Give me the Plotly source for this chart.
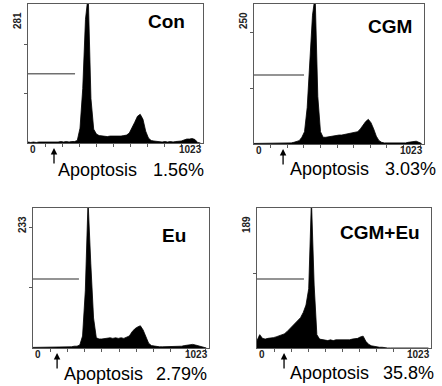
import plotly.graph_objects as go

# DNA content channels (bin grid, 16 channels per bin)
channels = list(range(0, 1024, 16))

con = [2, 1, 2, 1, 2, 2, 1, 2, 2, 1, 2, 2, 3, 2, 3, 2, 3, 3, 5, 30,
       110, 250, 300, 90, 28, 18, 15, 14, 14, 13, 14, 14, 13, 14, 14, 15, 16, 20, 30, 42,
       54, 58, 48, 24, 10, 5, 4, 3, 3, 2, 3, 2, 3, 2, 3, 3, 4, 6, 8, 8,
       9, 7, 1, 0]
cgm = [1, 1, 1, 2, 1, 1, 2, 1, 2, 1, 1, 2, 1, 2, 2, 3, 4, 6, 12, 22,
       65, 140, 230, 265, 85, 22, 12, 12, 13, 14, 14, 15, 16, 16, 17, 18, 18, 19, 20, 22,
       27, 34, 40, 44, 38, 27, 14, 6, 3, 2, 2, 1, 2, 1, 2, 1, 2, 2, 3, 4,
       5, 5, 3, 1]
eu = [1, 1, 2, 2, 1, 2, 2, 2, 1, 2, 2, 2, 2, 2, 2, 3, 3, 5, 20, 95,
      245, 140, 50, 17, 15, 15, 16, 16, 17, 16, 17, 16, 17, 16, 18, 20, 27, 32, 35, 37,
      30, 18, 8, 4, 3, 2, 2, 2, 2, 2, 2, 2, 3, 3, 3, 4, 5, 6, 6, 5,
      4, 3, 1, 0]
cgm_eu = [10, 18, 13, 12, 13, 13, 14, 15, 16, 17, 19, 22, 26, 30, 34, 38, 41, 48, 58, 80,
          200, 85, 18, 12, 11, 11, 10, 11, 10, 11, 11, 10, 11, 10, 11, 12, 12, 13, 15, 16,
          9, 5, 3, 2, 1, 1, 1, 0, 0, 0, 0, 0, 0, 0, 0, 0, 0, 0, 0, 0,
          0, 0, 0, 0]

names = ["Con", "CGM", "Eu", "CGM+Eu"]
series = [con, cgm, eu, cgm_eu]
ymax = [281, 250, 233, 189]
apoptosis = ["1.56%", "3.03%", "2.79%", "35.8%"]
marker_level = [140, 123, 115, 93]
marker_end = [275, 301, 267, 276]
arrow_ch = [152, 175, 140, 159]

W, H = 442, 386
# panel frames in pixels: left, right, top, bottom
frames = [(28, 203, 4, 143), (254, 424, 4, 144), (33, 209, 208, 348), (257, 431, 208, 348)]
name_pos = [(187, 22), (414, 26), (188, 235), (422, 232)]
apo_pos = [(56, 206, 170), (288, 438, 169), (62, 209, 374), (288, 436, 373)]


def px(x):
    return x / W


def py(y):
    return 1 - y / H


fig = go.Figure()
annotations = []
shapes = []
font = "Liberation Sans, Arial, sans-serif"

for i in range(4):
    l, r, t, b = frames[i]
    xa = "xaxis" if i == 0 else f"xaxis{i+1}"
    ya = "yaxis" if i == 0 else f"yaxis{i+1}"
    xr = "x" if i == 0 else f"x{i+1}"
    yr = "y" if i == 0 else f"y{i+1}"
    fig.add_trace(go.Scatter(
        x=channels, y=series[i], mode="lines", fill="tozeroy",
        line=dict(color="black", width=0.8), fillcolor="black",
        xaxis=xr, yaxis=yr, showlegend=False, hoverinfo="skip"))
    fig.update_layout(**{
        xa: dict(domain=[px(l), px(r)], range=[0, 1023], showgrid=False, zeroline=False,
                 showline=True, mirror=True, linecolor="#5a5a5a", linewidth=1,
                 tickvals=list(range(100, 1001, 100)), ticks="outside", ticklen=3,
                 tickcolor="#5a5a5a", showticklabels=False, anchor=yr),
        ya: dict(domain=[py(b), py(t)], range=[0, ymax[i]], showgrid=False, zeroline=False,
                 showline=True, mirror=True, linecolor="#5a5a5a", linewidth=1,
                 tickvals=[100, 200], ticks="outside", ticklen=3, tickcolor="#5a5a5a",
                 showticklabels=False, anchor=xr),
    })
    # marker region line
    shapes.append(dict(type="line", xref=xr, yref=yr, x0=0, x1=marker_end[i],
                       y0=marker_level[i], y1=marker_level[i],
                       line=dict(color="#707070", width=1.5)))
    # sample name
    nx, ny = name_pos[i]
    annotations.append(dict(text=f"<b>{names[i]}</b>", x=px(nx), y=py(ny), xref="paper",
                            yref="paper", xanchor="right", yanchor="middle", showarrow=False,
                            font=dict(family=font, size=19, color="black")))
    # y max label
    annotations.append(dict(text=f"<b>{ymax[i]}</b>", x=px(l - 10), y=py(t + 17), xref="paper",
                            yref="paper", xanchor="center", yanchor="middle", showarrow=False,
                            textangle=-90, font=dict(family=font, size=10, color="#222222")))
    # x axis end labels
    annotations.append(dict(text="<b>0</b>", x=px(l), y=py(b + 6), xref="paper",
                            yref="paper", xanchor="left", yanchor="middle", showarrow=False,
                            font=dict(family=font, size=10, color="#222222")))
    annotations.append(dict(text="<b>1023</b>", x=px(r + 1), y=py(b + 6), xref="paper",
                            yref="paper", xanchor="right", yanchor="middle", showarrow=False,
                            font=dict(family=font, size=10, color="#222222")))
    # arrow
    annotations.append(dict(text="", x=arrow_ch[i], y=py(b + 5), xref=xr, yref="paper",
                            ax=0, ay=17, showarrow=True, arrowhead=2, arrowsize=1,
                            arrowwidth=1.3, arrowcolor="black"))
    # apoptosis text
    al, ar_, ay_ = apo_pos[i]
    annotations.append(dict(text="Apoptosis", x=px(al), y=py(ay_), xref="paper", yref="paper",
                            xanchor="left", yanchor="middle", showarrow=False,
                            font=dict(family=font, size=18, color="black")))
    annotations.append(dict(text=apoptosis[i], x=px(ar_), y=py(ay_), xref="paper", yref="paper",
                            xanchor="right", yanchor="middle", showarrow=False,
                            font=dict(family=font, size=18, color="black")))

fig.update_layout(width=W, height=H, margin=dict(l=0, r=0, t=0, b=0),
                  paper_bgcolor="white", plot_bgcolor="white",
                  annotations=annotations, shapes=shapes, showlegend=False)

fig.write_html("out.html", config={"displayModeBar": False},
               post_script="document.body.style.margin='0';document.body.style.padding='0';")
